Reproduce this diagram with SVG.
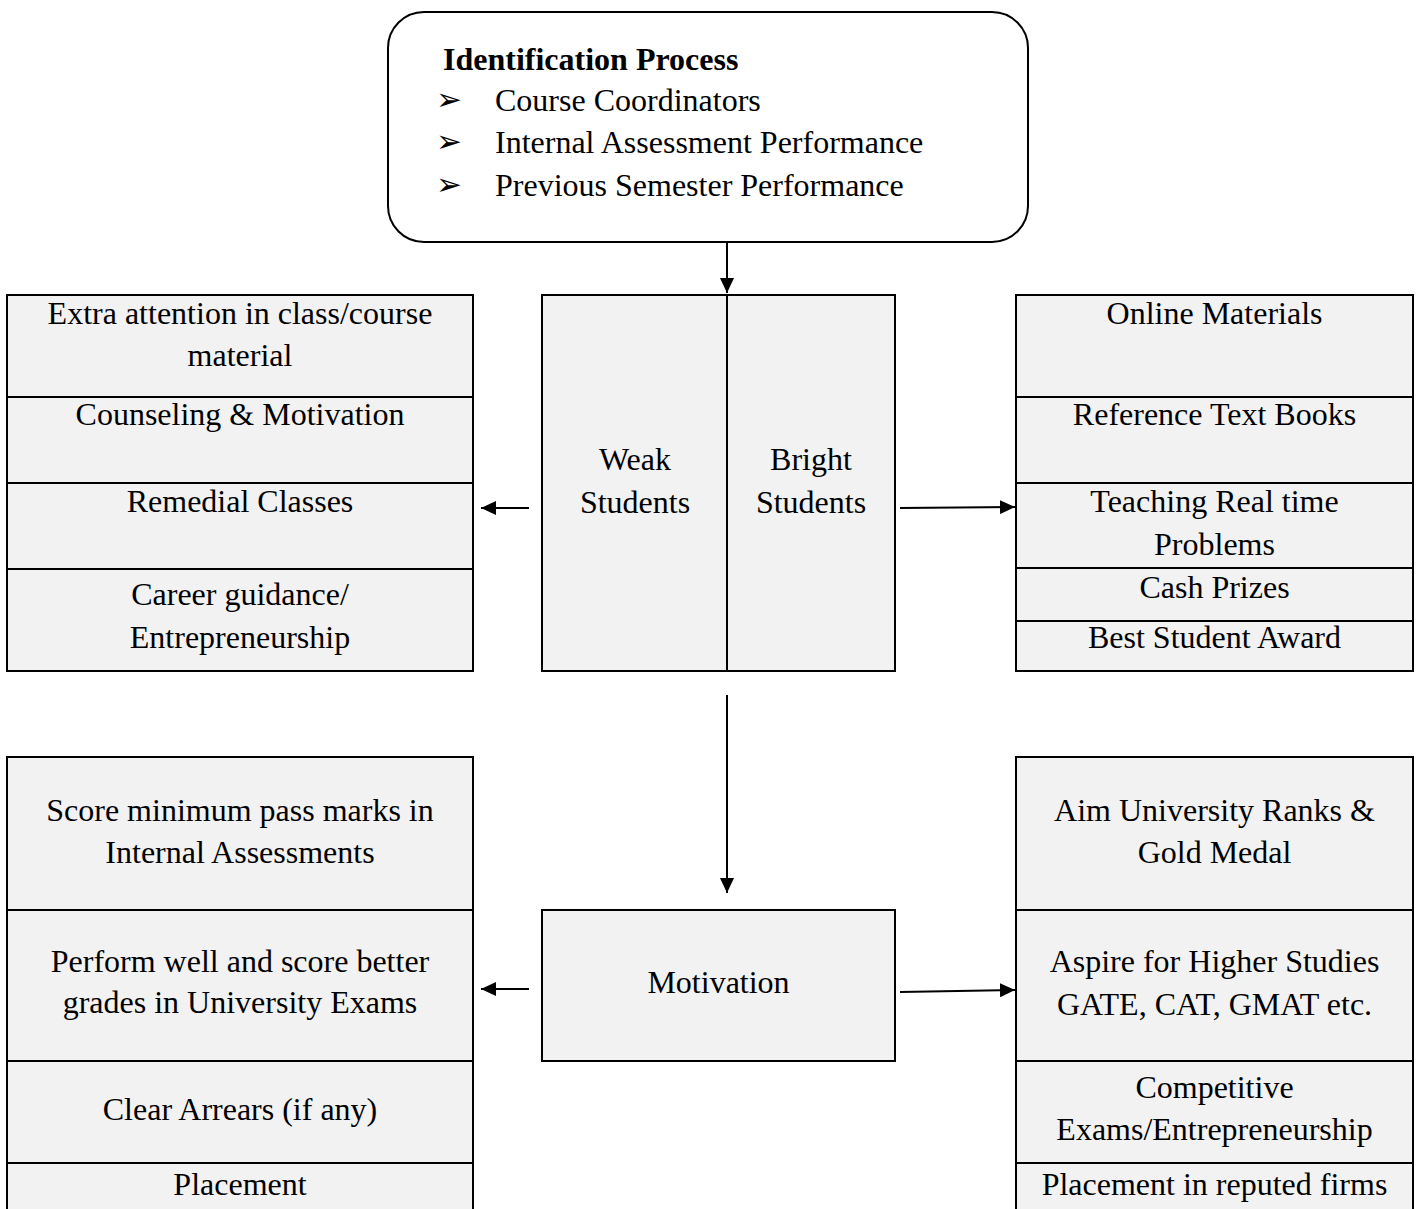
<svg xmlns="http://www.w3.org/2000/svg" width="1420" height="1209" viewBox="0 0 1420 1209">
<style>
text{font-family:"Liberation Serif","Times New Roman",serif;font-size:32px;fill:#000}
.c{text-anchor:middle}
.b{font-weight:bold}
.bul{font-family:"DejaVu Sans",sans-serif;font-size:31px}
.box{fill:#f2f2f2;stroke:#000;stroke-width:2}
.div{stroke:#000;stroke-width:2;fill:none}
.conn{stroke:#000;stroke-width:2;fill:none;marker-end:url(#ah)}
</style>
<defs>
<marker id="ah" markerUnits="userSpaceOnUse" markerWidth="15" markerHeight="14" refX="15" refY="7" orient="auto">
<path d="M0,0 L15,7 L0,14 z" fill="#000"/>
</marker>
</defs>
<rect width="1420" height="1209" fill="#fff"/>
<g id="identification">
<rect x="388" y="12" width="640" height="230" rx="36" ry="36" fill="#fff" stroke="#000" stroke-width="2"/>
<text class="b" x="443" y="70">Identification Process</text>
<text class="bul" x="436" y="110">➢</text>
<text x="495" y="111">Course Coordinators</text>
<text class="bul" x="436" y="152">➢</text>
<text x="495" y="153">Internal Assessment Performance</text>
<text class="bul" x="436" y="195">➢</text>
<text x="495" y="196">Previous Semester Performance</text>
</g>
<g id="weak-actions">
<rect class="box" x="7" y="295" width="466" height="376"/>
<path class="div" d="M7,397H473M7,483H473M7,569H473"/>
<text class="c" x="240" y="324">Extra attention in class/course</text>
<text class="c" x="240" y="366">material</text>
<text class="c" x="240" y="425">Counseling &amp; Motivation</text>
<text class="c" x="240" y="512">Remedial Classes</text>
<text class="c" x="240" y="605">Career guidance/</text>
<text class="c" x="240" y="648">Entrepreneurship</text>
</g>
<g id="students">
<rect class="box" x="542" y="295" width="353" height="376"/>
<path class="div" d="M727,295V671"/>
<text class="c" x="635" y="470">Weak</text>
<text class="c" x="635" y="513">Students</text>
<text class="c" x="811" y="470">Bright</text>
<text class="c" x="811" y="513">Students</text>
</g>
<g id="bright-actions">
<rect class="box" x="1016" y="295" width="397" height="376"/>
<path class="div" d="M1016,397H1413M1016,483H1413M1016,568H1413M1016,621H1413"/>
<text class="c" x="1214.5" y="324">Online Materials</text>
<text class="c" x="1214.5" y="425">Reference Text Books</text>
<text class="c" x="1214.5" y="512">Teaching Real time</text>
<text class="c" x="1214.5" y="555">Problems</text>
<text class="c" x="1214.5" y="598">Cash Prizes</text>
<text class="c" x="1214.5" y="648">Best Student Award</text>
</g>
<g id="motivation">
<rect class="box" x="542" y="910" width="353" height="151"/>
<text class="c" x="718.5" y="993">Motivation</text>
</g>
<g id="weak-goals">
<rect class="box" x="7" y="757" width="466" height="460"/>
<path class="div" d="M7,910H473M7,1061H473M7,1163H473"/>
<text class="c" x="240" y="821">Score minimum pass marks in</text>
<text class="c" x="240" y="863">Internal Assessments</text>
<text class="c" x="240" y="972">Perform well and score better</text>
<text class="c" x="240" y="1013">grades in University Exams</text>
<text class="c" x="240" y="1120">Clear Arrears (if any)</text>
<text class="c" x="240" y="1195">Placement</text>
</g>
<g id="bright-goals">
<rect class="box" x="1016" y="757" width="397" height="460"/>
<path class="div" d="M1016,910H1413M1016,1061H1413M1016,1163H1413"/>
<text class="c" x="1214.5" y="821">Aim University Ranks &amp;</text>
<text class="c" x="1214.5" y="863">Gold Medal</text>
<text class="c" x="1214.5" y="972">Aspire for Higher Studies</text>
<text class="c" x="1214.5" y="1015">GATE, CAT, GMAT etc.</text>
<text class="c" x="1214.5" y="1098">Competitive</text>
<text class="c" x="1214.5" y="1140">Exams/Entrepreneurship</text>
<text class="c" x="1214.5" y="1195">Placement in reputed firms</text>
</g>
<g id="connectors">
<line class="conn" x1="727" y1="242" x2="727" y2="293"/>
<line class="conn" x1="529" y1="508" x2="481" y2="508"/>
<line class="conn" x1="900" y1="508" x2="1015" y2="507"/>
<line class="conn" x1="727" y1="695" x2="727" y2="893"/>
<line class="conn" x1="529" y1="989" x2="481" y2="989"/>
<line class="conn" x1="900" y1="992" x2="1015" y2="990"/>
</g>
</svg>
